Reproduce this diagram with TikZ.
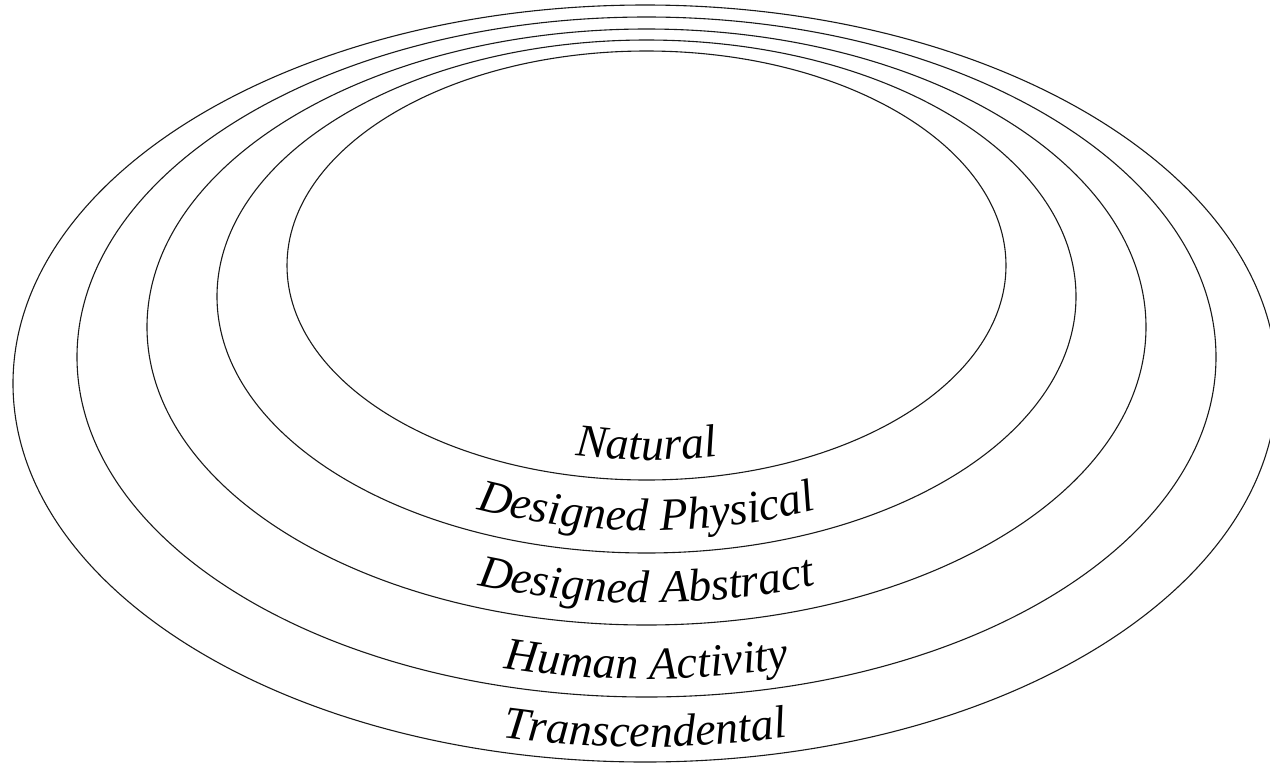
\documentclass[tikz,border=0pt]{standalone}
\usepackage{fontspec}
\setmainfont{Liberation Serif}
\usetikzlibrary{decorations.text}
\tikzset{
  ring/.style={draw=black!90, line width=1.1pt},
  lbl/.style={decorate, decoration={text along path, text align=center,
     text format delimiters={|}{|},
     text={|\itshape\fontsize{46}{55}\selectfont|#1}}}
}
\begin{document}
\begin{tikzpicture}[x=1pt,y=1pt]
\useasboundingbox (0,0) rectangle (1270,-764);
% ellipses (outer to inner)
\coordinate (c1) at (645,-383.5);
\coordinate (c2) at (646.5,-357);
\coordinate (c3) at (646.5,-327);
\coordinate (c4) at (646.5,-296.5);
\coordinate (c5) at (646.5,-265.5);
\draw[ring] (c1) ellipse [x radius=632pt, y radius=378.5pt];
\draw[ring] (c2) ellipse [x radius=569.5pt, y radius=340pt];
\draw[ring] (c3) ellipse [x radius=499.5pt, y radius=298pt];
\draw[ring] (c4) ellipse [x radius=429.5pt, y radius=256.5pt];
\draw[ring] (c5) ellipse [x radius=359.5pt, y radius=214.5pt];
% labels
\path[lbl={Natural}] ([shift={(225:339.5pt and 194.5pt)}]c5) arc[start angle=225, end angle=315, x radius=339.5pt, y radius=194.5pt];
\path[lbl={Designed Physical}] ([shift={(225:407pt and 234pt)}]c4) arc[start angle=225, end angle=315, x radius=407pt, y radius=234pt];
\path[lbl={Designed Abstract}] ([shift={(225:477pt and 276pt)}]c3) arc[start angle=225, end angle=315, x radius=477pt, y radius=276pt];
\path[lbl={Human Activity}] ([shift={(225:551pt and 322pt)}]c2) arc[start angle=225, end angle=315, x radius=551pt, y radius=322pt];
\path[lbl={Transcendental}] ([shift={(225:617pt and 363.5pt)}]c1) arc[start angle=225, end angle=315, x radius=617pt, y radius=363.5pt];
\end{tikzpicture}
\end{document}
